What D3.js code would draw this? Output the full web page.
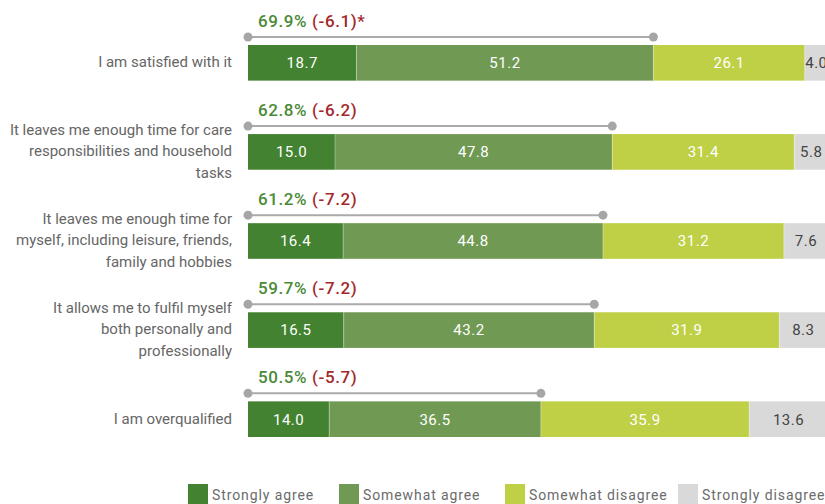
<!DOCTYPE html>
<html>
<head>
<meta charset="utf-8">
<script src="https://cdn.jsdelivr.net/npm/d3@7"></script>
<style>
  html, body { margin: 0; padding: 0; background: #fff; }
  svg { display: block; font-family: Roboto, "Noto Sans", sans-serif; }
</style>
</head>
<body>
<svg id="chart" width="825" height="504"></svg>
<script>
// Statements (wrapped lines for the left-hand labels)
const statements = [
  ["I am satisfied with it"],
  ["It leaves me enough time for care", "responsibilities and household", "tasks"],
  ["It leaves me enough time for", "myself, including leisure, friends,", "family and hobbies"],
  ["It allows me to fulfil myself", "both personally and", "professionally"],
  ["I am overqualified"]
];
const responses = ["Strongly agree", "Somewhat agree", "Somewhat disagree", "Strongly disagree"];

// Shares per response (%)
const stronglyAgree    = [18.7, 15.0, 16.4, 16.5, 14.0];
const somewhatAgree    = [51.2, 47.8, 44.8, 43.2, 36.5];
const somewhatDisagree = [26.1, 31.4, 31.2, 31.9, 35.9];
const stronglyDisagree = [4.0, 5.8, 7.6, 8.3, 13.6];

// Total agreement and change vs. previous wave
const agreeTotal  = [69.9, 62.8, 61.2, 59.7, 50.5];
const agreeChange = ["(-6.1)", "(-6.2)", "(-7.2)", "(-7.2)", "(-5.7)"];
const changeMark  = ["*", "", "", "", ""];

const colors = ["#428230", "#709953", "#bfcf46", "#d9d9d9"];
const labelColors = ["#fff", "#fff", "#fff", "#444"];

const svg = d3.select("#chart");
const rows = d3.range(statements.length);

const x = d3.scaleLinear().domain([0, 100]).range([248, 828]);
const y = d3.scaleBand().domain(rows).range([45, 437]).paddingInner(0.6).paddingOuter(0);

const series = [stronglyAgree, somewhatAgree, somewhatDisagree, stronglyDisagree];
const stacked = d3.stack().keys(d3.range(4)).value((d, k) => series[k][d])(rows);

// Stacked bars
stacked.forEach((layer, k) => {
  const g = svg.append("g");
  g.selectAll("rect").data(layer).join("rect")
    .attr("x", d => x(d[0]))
    .attr("y", (d, i) => y(i))
    .attr("width", d => x(d[1]) - x(d[0]))
    .attr("height", y.bandwidth())
    .attr("fill", colors[k]);
  g.selectAll("text").data(layer).join("text")
    .attr("x", d => (x(d[0]) + x(d[1])) / 2)
    .attr("y", (d, i) => y(i) + y.bandwidth() / 2)
    .attr("dy", "0.36em")
    .attr("text-anchor", "middle")
    .attr("font-size", 15)
    .attr("letter-spacing", 0.5)
    .attr("fill", labelColors[k])
    .text((d, i) => series[k][i].toFixed(1));
});

// Separator lines between segments
stacked.slice(1).forEach(layer => {
  svg.append("g").selectAll("line").data(layer).join("line")
    .attr("x1", d => x(d[0])).attr("x2", d => x(d[0]))
    .attr("y1", (d, i) => y(i)).attr("y2", (d, i) => y(i) + y.bandwidth())
    .attr("stroke", "#fff").attr("stroke-opacity", 0.35).attr("stroke-width", 1);
});

// Total agreement brackets
const brackets = svg.append("g");
rows.forEach(i => {
  const ly = y(i) - 8;
  brackets.append("line")
    .attr("x1", x(0)).attr("x2", x(agreeTotal[i]))
    .attr("y1", ly).attr("y2", ly)
    .attr("stroke", "#aaa").attr("stroke-width", 2);
  [0, agreeTotal[i]].forEach(v => {
    brackets.append("circle").attr("cx", x(v)).attr("cy", ly).attr("r", 4.5).attr("fill", "#a6a6a6");
  });
  const t = brackets.append("text")
    .attr("x", x(0) + 10)
    .attr("y", y(i) - 18)
    .attr("font-size", 17)
    .attr("font-weight", 500)
    .attr("letter-spacing", 0.6);
  t.append("tspan").attr("fill", "#4a8a36").text(agreeTotal[i].toFixed(1) + "%");
  t.append("tspan").attr("fill", "#a3282b").text(" " + agreeChange[i]);
  if (changeMark[i]) t.append("tspan").attr("fill", "#a3282b").text(changeMark[i]);
});

// Category labels
const lineH = 21.5;
rows.forEach(i => {
  const lines = statements[i];
  const cy = y(i) + y.bandwidth() / 2;
  const t = svg.append("text")
    .attr("text-anchor", "end")
    .attr("font-size", 15)
    .attr("fill", "#666");
  lines.forEach((s, j) => {
    t.append("tspan")
      .attr("x", 232)
      .attr("y", cy + (j - (lines.length - 1) / 2) * lineH - 1)
      .attr("dy", "0.36em")
      .text(s);
  });
});

// Legend
const legendX = [188, 339, 505, 678];
const legend = svg.append("g");
responses.forEach((r, k) => {
  legend.append("rect").attr("x", legendX[k]).attr("y", 484).attr("width", 20).attr("height", 20).attr("fill", colors[k]);
  legend.append("text").attr("x", legendX[k] + 24).attr("y", 500)
    .attr("font-size", 14).attr("fill", "#6b6b6b").attr("letter-spacing", 0.9).text(r);
});
</script>
</body>
</html>
